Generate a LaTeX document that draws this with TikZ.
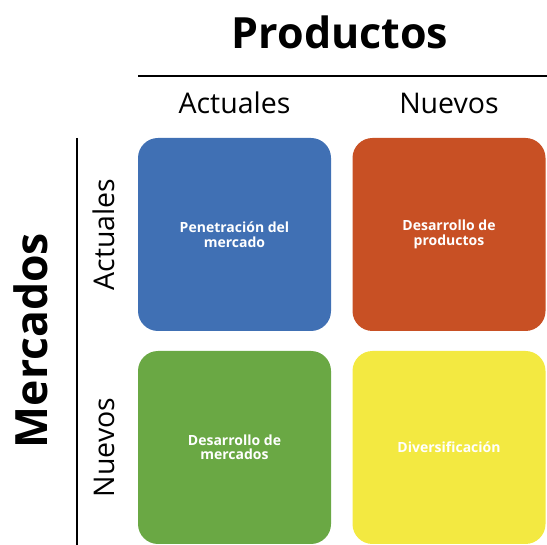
\documentclass[tikz,border=0pt]{standalone}
\usepackage{fontspec}
\setmainfont{Open Sans}
\definecolor{cblue}{RGB}{64,112,180}
\definecolor{corange}{RGB}{200,80,36}
\definecolor{cgreen}{RGB}{106,168,68}
\definecolor{cyellow}{RGB}{243,233,65}
\tikzset{
  quad/.style={rounded corners=20pt, minimum width=193pt, minimum height=193pt, inner sep=0pt,
    text=white, align=center, font=\fontsize{14}{14.5}\selectfont\bfseries},
  head/.style={font=\fontsize{43}{48}\selectfont\bfseries, inner sep=0pt},
  sub/.style={font=\fontsize{28.5}{32}\selectfont, inner sep=0pt},
  rule/.style={line width=2pt, black}
}
\begin{document}
\begin{tikzpicture}[x=1pt,y=-1pt]
\useasboundingbox (0,0) rectangle (547,545);
\node[quad, fill=cblue] (pm) at (234.5,234.5) {Penetración del\\mercado};
\node[quad, fill=corange] (dp) at (449,234.5) {Desarrollo de\\productos};
\node[quad, fill=cgreen] (dm) at (234.5,447.5) {Desarrollo de\\mercados};
\node[quad, fill=cyellow] (dv) at (449,447.5) {Diversificación};
\node[head] (prod) at (340,32) {Productos};
\node[head, rotate=90, font=\fontsize{44.5}{48}\selectfont\bfseries] (merc) at (31,340.5) {Mercados};
\node[sub] (pa) at (234.5,103) {Actuales};
\node[sub] (pn) at (449,103) {Nuevos};
\node[sub, rotate=90] (ma) at (104,234.5) {Actuales};
\node[sub, rotate=90] (mn) at (104,447.5) {Nuevos};
\coordinate (h1) at (138,76);
\coordinate (h2) at (547,76);
\coordinate (v1) at (77,138);
\coordinate (v2) at (77,545);
\draw[rule] (h1) -- (h2);
\draw[rule] (v1) -- (v2);
\end{tikzpicture}
\end{document}
